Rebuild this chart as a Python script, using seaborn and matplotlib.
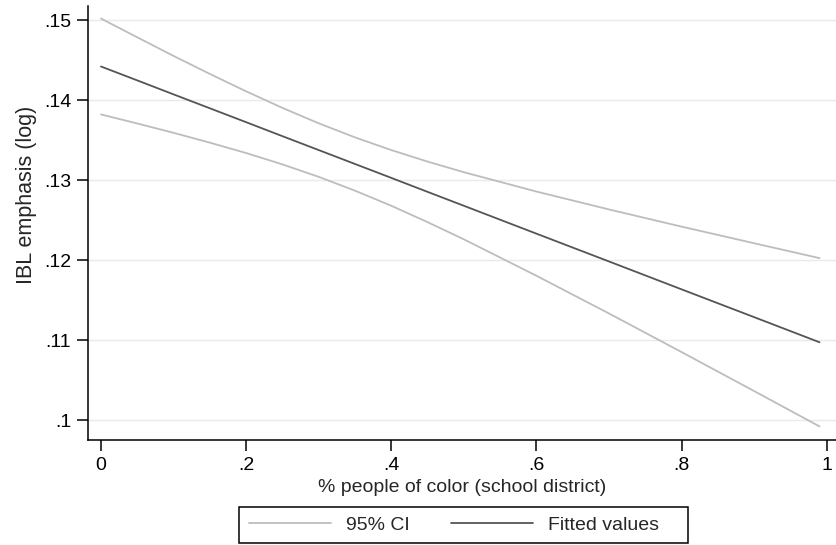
import matplotlib
matplotlib.use("Agg")
import matplotlib.pyplot as plt
from matplotlib.patches import Rectangle
import seaborn as sns
import pandas as pd

# Data
x_vals = [0.0, 0.05, 0.1, 0.15, 0.2, 0.25, 0.3, 0.35, 0.4, 0.45, 0.5, 0.6, 0.7, 0.8, 0.9, 0.99]
fitted = [0.14424, 0.14250, 0.14075, 0.13901, 0.13727, 0.13552, 0.13378, 0.13204,
          0.13030, 0.12855, 0.12681, 0.12332, 0.11984, 0.11635, 0.11287, 0.10973]
ci_upper = [0.15024, 0.14789, 0.14556, 0.14331, 0.14113, 0.13906, 0.13713, 0.13537,
            0.13378, 0.13234, 0.13101, 0.12859, 0.12635, 0.12420, 0.12212, 0.12026]
ci_lower = [0.13824, 0.13711, 0.13594, 0.13471, 0.13341, 0.13199, 0.13043, 0.12870,
            0.12681, 0.12476, 0.12261, 0.11805, 0.11333, 0.10850, 0.10362, 0.09920]

x_ticks = [0, 0.2, 0.4, 0.6, 0.8, 1.0]
x_ticklabels = ["0", ".2", ".4", ".6", ".8", "1"]
y_ticks = [0.10, 0.11, 0.12, 0.13, 0.14, 0.15]
y_ticklabels = [".1", ".11", ".12", ".13", ".14", ".15"]

df = pd.DataFrame({"x": x_vals, "fit": fitted, "lo": ci_lower, "hi": ci_upper})

sns.set_style("white")
plt.rcParams["font.family"] = ["Liberation Sans", "DejaVu Sans"]

W, H = 836, 545
fig = plt.figure(figsize=(W / 100, H / 100), dpi=100)
ax = fig.add_axes([88 / W, 1 - 440 / H, 1 - 88 / W, (440 - 6) / H])

ci_color = "#bdbdbd"
fit_color = "#555555"

sns.lineplot(data=df, x="x", y="hi", ax=ax, color=ci_color, lw=1.3, label="95% CI")
sns.lineplot(data=df, x="x", y="lo", ax=ax, color=ci_color, lw=1.3, label="_nolegend_")
sns.lineplot(data=df, x="x", y="fit", ax=ax, color=fit_color, lw=1.3, label="Fitted values")

ax.set_xlim(-0.0179, 1.0127)
ax.set_ylim(0.0975, 0.15181)
ax.set_xticks(x_ticks)
ax.set_xticklabels(x_ticklabels)
ax.set_yticks(y_ticks)
ax.set_yticklabels(y_ticklabels)

ax.grid(axis="y", color="#eaeaea", lw=1.0)
ax.grid(axis="x", visible=False)
ax.set_axisbelow(True)

for s in ["top", "right"]:
    ax.spines[s].set_visible(False)
for s in ["left", "bottom"]:
    ax.spines[s].set_color("black")
    ax.spines[s].set_linewidth(1.1)

ax.tick_params(axis="both", which="major", direction="out", length=8, width=1.1,
               color="black", labelsize=14, labelcolor="black", pad=4,
               left=True, bottom=True)

ax.set_xlabel("% people of color (school district)", fontsize=14, labelpad=4)
ax.set_ylabel("IBL emphasis (log)", fontsize=15.5)
ax.yaxis.set_label_coords(-(88 - 37) / 748, (440 - 195) / 434)

if ax.get_legend():
    ax.get_legend().remove()
handles, labels = ax.get_legend_handles_labels()
leg = fig.legend(handles, labels, loc="center", ncol=2,
                 bbox_to_anchor=(454 / W, 1 - 525 / H),
                 fontsize=14, frameon=False,
                 handlelength=4.2, handletextpad=0.77, columnspacing=2.15,
                 borderpad=0.4, borderaxespad=0)

# legend frame
fig.patches.append(Rectangle((239 / W, 1 - 543 / H), (688 - 239) / W, (543 - 507) / H,
                             transform=fig.transFigure, fill=False,
                             edgecolor="black", lw=1.1))

fig.savefig("out.png", dpi=100)
